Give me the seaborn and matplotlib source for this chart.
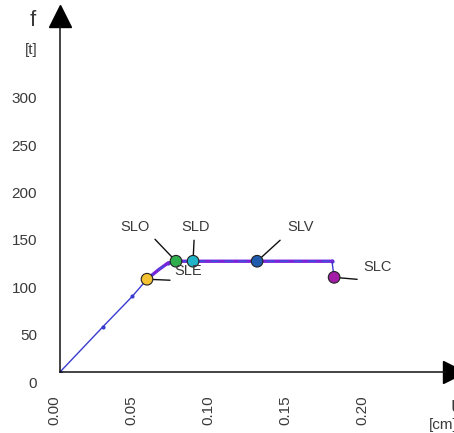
import matplotlib
matplotlib.use("Agg")
import matplotlib.pyplot as plt
from matplotlib.transforms import ScaledTranslation
import seaborn as sns
import pandas as pd

# curva di capacita' (spostamento u [cm], forza f [t])
curve_u = [0.0, 0.028, 0.047, 0.0565, 0.070, 0.0753, 0.0864, 0.128, 0.1766, 0.178]
curve_f = [0, 48, 80, 98, 115, 117, 117, 117, 117, 100]

# tratto bilineare (sovrapposto)
bilin_u = [0.0565, 0.064, 0.070, 0.0753, 0.0864, 0.128, 0.1766]
bilin_f = [98, 108, 115, 117, 117, 117, 117]

# stati limite
limit_names = ["SLE", "SLO", "SLD", "SLV", "SLC"]
limit_u = [0.0565, 0.0753, 0.0864, 0.128, 0.178]
limit_f = [98, 117, 117, 117, 100]
limit_colors = ["#f2c232", "#2fae4e", "#22b4c8", "#1f5cae", "#a21ea6"]

x_ticks = [0.00, 0.05, 0.10, 0.15, 0.20]
x_labels = ["0.00", "0.05", "0.10", "0.15", "0.20"]
y_ticks = [0, 50, 100, 150, 200, 250, 300]

sns.set_style("white")
plt.rcParams["font.family"] = ["Liberation Sans", "DejaVu Sans"]
TXT = "#3a3a3a"

fig = plt.figure(figsize=(4.54, 4.33), dpi=100)
ax = fig.add_axes([60 / 454, 61 / 433, 386 / 454, 345 / 433])

df_curve = pd.DataFrame({"u": curve_u, "f": curve_f})
df_bilin = pd.DataFrame({"u": bilin_u, "f": bilin_f})

sns.lineplot(data=df_curve, x="u", y="f", ax=ax, color="#3a3ccf", lw=1.0,
             marker="o", markersize=3, markeredgewidth=0, sort=False, zorder=2)
sns.lineplot(data=df_bilin, x="u", y="f", ax=ax, color="#7a22d8", lw=2.4,
             sort=False, zorder=3)
sns.lineplot(data=df_bilin, x="u", y="f", ax=ax, color="#3a52e0", lw=1.0,
             linestyle=(0, (6, 4)), sort=False, zorder=4)

# linee di richiamo e etichette (offset in pixel: leader end, text center)
pt = 72 / 100
leaders = {"SLE": ((23, 1), (41, -8)),
           "SLO": ((-21, -22), (-41, -34)),
           "SLD": ((1, -21), (3, -34)),
           "SLV": ((23, -21), (43, -34)),
           "SLC": ((23, 2), (43, -10))}
for name, u, f in zip(limit_names, limit_u, limit_f):
    (lx, ly), (tx, ty) = leaders[name]
    ax.annotate("", xy=(u, f), xytext=(lx * pt, -ly * pt),
                textcoords="offset points",
                arrowprops=dict(arrowstyle="-", color="#111111", lw=1.0,
                                shrinkA=0, shrinkB=0), zorder=5)
    ax.annotate(name, xy=(u, f), xytext=(tx * pt, -ty * pt),
                textcoords="offset points", ha="center", va="center",
                fontsize=10.5, color=TXT, zorder=8)

df_lim = pd.DataFrame({"u": limit_u, "f": limit_f, "name": limit_names})
sns.scatterplot(data=df_lim, x="u", y="f", hue="name", palette=limit_colors,
                s=70, edgecolor="#222222", linewidth=0.8, legend=False,
                ax=ax, zorder=6)

ax.set_xlim(0, 386 / 1540)
ax.set_ylim(0, 345 / 0.9467)
ax.set_xticks(x_ticks)
ax.set_xticklabels(x_labels, rotation=90, fontsize=11, color=TXT)
ax.set_yticks(y_ticks)
ax.set_yticklabels([str(v) for v in y_ticks], fontsize=11, color=TXT)
ax.tick_params(axis="both", direction="out", length=15, width=1.1,
               color="#111111", pad=1.5)
ax.tick_params(axis="x", pad=2)
ax.set_xlabel("")
ax.set_ylabel("")

for lab in ax.get_yticklabels():
    lab.set_transform(lab.get_transform() +
                      ScaledTranslation(0, -10 / 100, fig.dpi_scale_trans))
for lab in ax.get_xticklabels():
    lab.set_transform(lab.get_transform() +
                      ScaledTranslation(-6 / 100, 0, fig.dpi_scale_trans))

for side in ["top", "right"]:
    ax.spines[side].set_visible(False)
for side in ["left", "bottom"]:
    ax.spines[side].set_color("#111111")
    ax.spines[side].set_linewidth(1.1)

# frecce degli assi
ax.plot([0], [(372 - 16) / 345], marker="^", markersize=15.5, color="black",
        transform=ax.transAxes, clip_on=False)
ax.plot([(454 - 60) / 386], [0], marker=">", markersize=15.5, color="black",
        transform=ax.transAxes, clip_on=False)

fig.text(33 / 454, 1 - 20 / 433, "f", fontsize=16, color=TXT,
         ha="center", va="center")
fig.text(31 / 454, 1 - 50 / 433, "[t]", fontsize=11, color=TXT,
         ha="center", va="center")
fig.text(450 / 454, 1 - 407 / 433, "u", fontsize=16, color=TXT,
         ha="left", va="center")
fig.text(429 / 454, 1 - 425 / 433, "[cm]", fontsize=11, color=TXT,
         ha="left", va="center")

fig.savefig("out.png", dpi=100)
